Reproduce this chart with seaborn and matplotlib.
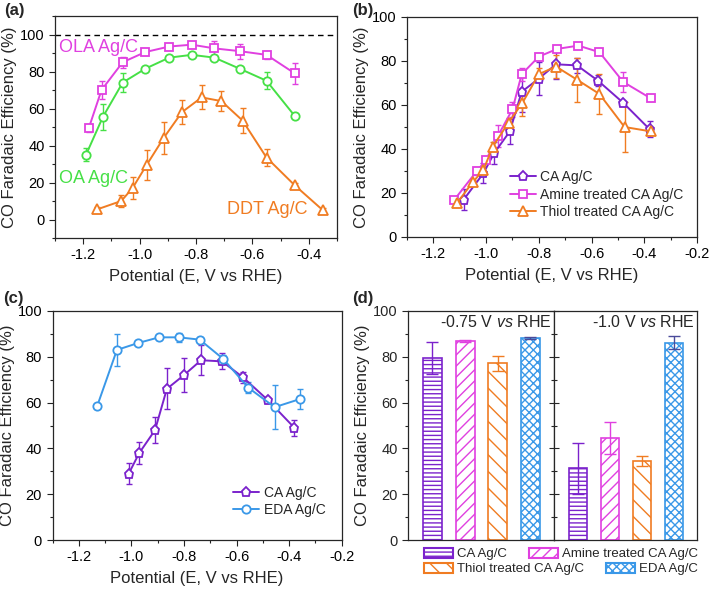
import matplotlib
matplotlib.use("Agg")
import matplotlib.pyplot as plt
from matplotlib.patches import Patch
from matplotlib.ticker import MultipleLocator
import numpy as np
import pandas as pd
import seaborn as sns

# ---- panel (a) ----
ola_x = [-1.18, -1.135, -1.06, -0.98, -0.895, -0.815, -0.735, -0.645, -0.55, -0.45]
ola_y = [49.5, 70, 85, 90.5, 93.5, 94.5, 92.5, 91, 89, 79]
ola_err = [2, 5, 3, 1.5, 1, 1, 4, 4, 2, 5.5]
oa_x = [-1.19, -1.13, -1.06, -0.98, -0.895, -0.815, -0.735, -0.645, -0.55, -0.45]
oa_y = [35, 55.5, 74, 81.5, 87.5, 89, 87.5, 81.5, 75, 56]
oa_err = [3.5, 7, 5, 1, 1, 1, 1, 1, 4.5, 1]
ddt_x = [-1.15, -1.065, -1.025, -0.975, -0.915, -0.85, -0.78, -0.71, -0.635, -0.55, -0.45, -0.35]
ddt_y = [5.5, 10, 17, 29.5, 44, 58, 66, 64, 53.5, 33.5, 18.5, 5]
ddt_err = [1, 3, 6, 8, 8.5, 6.5, 6.5, 5.5, 7, 4.5, 1.5, 1]

# ---- panel (b) ----
ca_x = [-1.085, -1.01, -0.97, -0.91, -0.865, -0.80, -0.735, -0.655, -0.575, -0.48, -0.38]
ca_y = [17, 29, 38, 48, 66, 72, 78.5, 78, 71, 61, 49]
ca_err = [4.8, 4.5, 5, 5.5, 9, 7.5, 6.5, 3.5, 2.5, 1, 3.5]
amine_x = [-1.12, -1.035, -1.0, -0.955, -0.90, -0.865, -0.80, -0.73, -0.65, -0.57, -0.48, -0.375]
amine_y = [17, 30, 35, 46, 58, 74, 82, 85.5, 87, 84, 70.5, 63]
amine_err = [1, 2, 1, 5, 3.5, 3, 1.5, 1, 1, 1, 4.5, 1]
thiol_x = [-1.11, -1.05, -1.01, -0.975, -0.915, -0.862, -0.80, -0.735, -0.655, -0.57, -0.475, -0.375]
thiol_y = [15.5, 25, 30.5, 41, 52, 61, 74, 77.5, 71.5, 65, 50, 48]
thiol_err = [1, 1, 1.5, 2, 2, 6, 3, 5, 10, 9, 11.5, 1]

# ---- panel (c) ----
eda_x = [-1.13, -1.055, -0.975, -0.895, -0.82, -0.74, -0.65, -0.555, -0.455, -0.36]
eda_y = [58.5, 83, 86, 88.5, 88.5, 87.5, 79, 66.5, 58, 61.5]
eda_err = [0.5, 7, 1, 1, 2, 1, 2, 2.5, 9.5, 4.5]

# ---- panel (d) ----
samples = ["CA Ag/C", "Amine treated CA Ag/C", "Thiol treated CA Ag/C", "EDA Ag/C"]
fe_075 = [79.5, 86.8, 77.2, 88.3]
err_075 = [7, 0.5, 3.3, 0.5]
fe_100 = [31.3, 44.5, 34.5, 86.2]
err_100 = [11, 7, 2, 2.7]

MAG = "#e040e0"
GRN = "#46e046"
ORG = "#f07c22"
PUR = "#7b22cc"
BLU = "#3a98e8"
NAVY = "#4a4a9a"

sns.set_style("ticks")
plt.rcParams["font.family"] = ["Liberation Sans", "DejaVu Sans"]
plt.rcParams["axes.unicode_minus"] = False
plt.rcParams["mathtext.fontset"] = "custom"
plt.rcParams["mathtext.it"] = "Liberation Sans:italic"
plt.rcParams["mathtext.rm"] = "Liberation Sans"
plt.rcParams["hatch.linewidth"] = 1.0

W, H = 710, 594
fig = plt.figure(figsize=(W / 100, H / 100), dpi=100)


def add_ax(l, r, t, b):
    return fig.add_axes([l / W, 1 - b / H, (r - l) / W, (b - t) / H])


def style_ax(ax, xlim, ylim):
    ax.set_xlim(*xlim)
    ax.set_ylim(*ylim)
    ax.xaxis.set_major_locator(MultipleLocator(0.2))
    ax.xaxis.set_minor_locator(MultipleLocator(0.1))
    ax.yaxis.set_major_locator(MultipleLocator(20))
    ax.yaxis.set_minor_locator(MultipleLocator(10))
    ax.tick_params(which="both", direction="out", width=0.8, labelsize=10.5, colors="#222222")
    ax.tick_params(which="major", length=4)
    ax.tick_params(which="minor", length=2.5)
    ax.tick_params(axis="both", labelcolor="black")
    ax.set_xlabel("Potential (E, V vs RHE)", fontsize=12, labelpad=5)
    ax.set_ylabel("CO Faradaic Efficiency (%)", fontsize=12, labelpad=2)
    for s in ax.spines.values():
        s.set_linewidth(0.9)


def series(ax, x, y, err, color, marker, label=None, ms=6):
    ax.errorbar(x, y, yerr=err, fmt="none", ecolor=color, elinewidth=1,
                capsize=2.5, capthick=1, zorder=2)
    sns.lineplot(x=x, y=y, ax=ax, color=color, marker=marker, markersize=ms,
                 markerfacecolor="white", markeredgecolor=color, markeredgewidth=1.3,
                 linewidth=1.4, label=label, errorbar=None, zorder=3, legend=False)


# (a)
ax_a = add_ax(55, 337, 16, 238)
series(ax_a, ola_x, ola_y, ola_err, MAG, "s", ms=5.5)
series(ax_a, oa_x, oa_y, oa_err, GRN, "o")
series(ax_a, ddt_x, ddt_y, ddt_err, ORG, "^", ms=6.5)
ax_a.axhline(100, color="black", linestyle="--", linewidth=1, dashes=(4, 3))
style_ax(ax_a, (-1.3, -0.3), (-10, 110))
ax_a.text(-1.285, 93, "OLA Ag/C", color=MAG, fontsize=13, va="center")
ax_a.text(-1.285, 22, "OA Ag/C", color=GRN, fontsize=13, va="center")
ax_a.text(-0.405, 5.5, "DDT Ag/C", color=ORG, fontsize=13, va="center", ha="right")

# (b)
ax_b = add_ax(407, 697, 17, 237)
series(ax_b, ca_x, ca_y, ca_err, PUR, "p", "CA Ag/C", ms=6.5)
series(ax_b, amine_x, amine_y, amine_err, MAG, "s", "Amine treated CA Ag/C", ms=5.5)
series(ax_b, thiol_x, thiol_y, thiol_err, ORG, "^", "Thiol treated CA Ag/C", ms=6.5)
style_ax(ax_b, (-1.3, -0.2), (0, 100))
ax_b.legend(loc="lower left", bbox_to_anchor=(0.33, 0.05), frameon=False, fontsize=10,
            handlelength=1.9, handletextpad=0.3, labelspacing=0.25, borderpad=0)

# (c)
ax_c = add_ax(52.5, 341.7, 311, 540)
series(ax_c, ca_x[1:], ca_y[1:], ca_err[1:], PUR, "p", "CA Ag/C", ms=6.5)
series(ax_c, eda_x, eda_y, eda_err, BLU, "o", "EDA Ag/C")
style_ax(ax_c, (-1.3, -0.2), (0, 100))
ax_c.legend(loc="lower left", bbox_to_anchor=(0.6, 0.07), frameon=False, fontsize=10,
            handlelength=1.9, handletextpad=0.3, labelspacing=0.25, borderpad=0)

# (d)
colors_d = [PUR, MAG, ORG, BLU]
ecolors_d = [PUR, MAG, ORG, NAVY]
hatches_d = ["----", "///", "\\\\", "xxxx"]
ax_d1 = add_ax(408, 554, 311, 540)
ax_d2 = add_ax(554, 697, 311, 540)
for ax, vals, errs, title in [(ax_d1, fe_075, err_075, "-0.75 V $\\mathit{vs}$ RHE"),
                              (ax_d2, fe_100, err_100, "-1.0 V $\\mathit{vs}$ RHE")]:
    df = pd.DataFrame({"sample": samples, "fe": vals})
    sns.barplot(data=df, x="sample", y="fe", hue="sample", palette=colors_d,
                order=samples, hue_order=samples, width=0.58, errorbar=None,
                legend=False, ax=ax)
    for patch, c, h in zip(ax.patches, colors_d, hatches_d):
        patch.set_facecolor("white")
        patch.set_edgecolor(c)
        patch.set_hatch(h)
        patch.set_linewidth(1.2)
    for i in range(len(samples)):
        ax.errorbar(i, vals[i], yerr=errs[i], fmt="none", ecolor=ecolors_d[i],
                    elinewidth=1, capsize=4, capthick=1, zorder=3)
    ax.set_xlim(-0.75, 3.72)
    ax.set_ylim(0, 100)
    ax.set_xticks([])
    ax.set_xlabel("")
    ax.yaxis.set_major_locator(MultipleLocator(20))
    ax.yaxis.set_minor_locator(MultipleLocator(10))
    ax.text(0.985, 0.985, title, transform=ax.transAxes, ha="right", va="top", fontsize=11.5)
    for s in ax.spines.values():
        s.set_linewidth(0.9)

ax_d1.tick_params(axis="y", which="both", direction="out", width=0.8, labelsize=10.5)
ax_d1.tick_params(axis="y", which="major", length=4)
ax_d1.tick_params(axis="y", which="minor", length=2.5)
ax_d1.set_ylabel("CO Faradaic Efficiency (%)", fontsize=12, labelpad=2)
ax_d2.set_ylabel("")
ax_d2.tick_params(axis="y", which="both", direction="inout", width=0.8, labelleft=False)
ax_d2.tick_params(axis="y", which="major", length=7)
ax_d2.tick_params(axis="y", which="minor", length=4)

handles = [Patch(facecolor="white", edgecolor=c, hatch=h, linewidth=1.5)
           for c, h in zip(colors_d, hatches_d)]
leg_kw = dict(ncol=2, frameon=False, fontsize=9.5, handlelength=2.2, handleheight=0.8,
              handletextpad=0.3, columnspacing=1.7, borderpad=0, borderaxespad=0)
fig.legend([handles[0], handles[1]], [samples[0], samples[1]], loc="center left",
           bbox_to_anchor=(424 / W, 1 - 554 / H), **leg_kw)
fig.legend([handles[2], handles[3]], [samples[2], samples[3]], loc="center left",
           bbox_to_anchor=(424 / W, 1 - 569 / H), **leg_kw)

# panel labels
for lbl, px, py in [("(a)", 4, 11), ("(b)", 352, 11), ("(c)", 3, 298), ("(d)", 352, 298)]:
    fig.text(px / W, 1 - py / H, lbl, fontsize=12, fontweight="bold", va="center", ha="left")

fig.savefig("out.png", dpi=100)
